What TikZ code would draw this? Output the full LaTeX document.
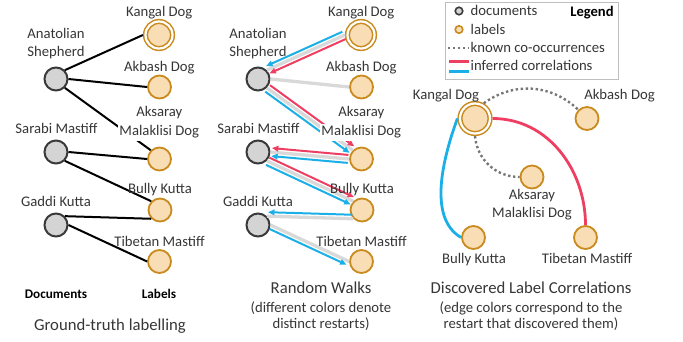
\documentclass[tikz,border=0pt]{standalone}
\usepackage{fontspec}
\setmainfont{Carlito}
\usetikzlibrary{arrows.meta,calc}
\definecolor{lblstroke}{HTML}{C98A1E}
\definecolor{lblfill}{HTML}{F8DDB5}
\definecolor{docfill}{HTML}{D4D4D4}
\definecolor{docstroke}{HTML}{3A3A3A}
\definecolor{walkred}{HTML}{EE3F63}
\definecolor{walkblue}{HTML}{1AAFE6}
\definecolor{basegray}{HTML}{D9D9D9}
\definecolor{dotgray}{HTML}{777777}
\definecolor{txt}{HTML}{363636}
\definecolor{legframe}{HTML}{BFBFBF}
\tikzset{
  docnode/.style={circle,draw=docstroke,fill=docfill,line width=2pt,minimum size=23pt,inner sep=0pt},
  lblnode/.style={circle,draw=lblstroke,fill=lblfill,line width=1.8pt,minimum size=23pt,inner sep=0pt},
  lblmain/.style={circle,draw=lblstroke,fill=lblfill,line width=1.5pt,double=white,double distance=2.2pt,minimum size=27pt,inner sep=0pt,outer sep=2.6pt},
  txtlab/.style={text=txt,font=\fontsize{14.7}{18}\selectfont,inner sep=0pt,anchor=base},
  legtext/.style={txtlab,anchor=base west},
  boldlab/.style={text=black,font=\fontsize{13.2}{16}\selectfont\bfseries,inner sep=0pt,anchor=base},
  legtitle/.style={text=black,font=\fontsize{14.6}{16}\selectfont\bfseries,inner sep=0pt,anchor=base},
  captext/.style={text=txt,font=\fontsize{16.7}{20}\selectfont,inner sep=0pt,anchor=base},
  subcap/.style={text=txt,font=\fontsize{14.7}{18}\selectfont,inner sep=0pt,anchor=base},
  coverlab/.style={txtlab,fill=white,text height=11pt,text depth=4pt,inner xsep=1.5pt,inner ysep=1pt},
  truth/.style={line width=2pt,black},
  baseedge/.style={line width=3.3pt,basegray},
  walkarrow/.style={line width=2pt,-{Triangle[length=6.5pt,width=5.5pt]},shorten >=1pt,shorten <=1pt},
  known/.style={line width=2.4pt,dotgray,dash pattern=on 2.4pt off 2.6pt},
  inferred/.style={line width=2.8pt},
  legbox/.style={rectangle,draw=legframe,line width=1pt,fill=white,minimum width=173.5pt,minimum height=77pt,inner sep=0pt,anchor=north west},
  legicon/.style={minimum size=7.5pt,line width=1.6pt},
}
\newcommand\rwalk[4]{\draw[walkarrow,#1] ($(#2)!#4!90:(#3)$) -- ($(#3)!#4!-90:(#2)$);}
\begin{document}
\begin{tikzpicture}[x=1pt,y=-1pt]
\useasboundingbox (0,0) rectangle (683,341);
% ---------- panel 1: ground truth ----------
\node[docnode] (anA) at (56,79) {};
\node[docnode] (saA) at (56,152) {};
\node[docnode] (gaA) at (56,225) {};
\node[lblmain] (kaA) at (159,35) {};
\node[lblnode] (abA) at (159.5,87) {};
\node[lblnode] (asA) at (159.5,159) {};
\node[lblnode] (buA) at (160,210) {};
\node[lblnode] (tiA) at (159.5,261.5) {};
\draw[truth] (anA.45) -- (kaA.west);
\draw[truth] (anA.east) -- (abA.west);
\draw[truth] (anA.-45) -- (asA.135);
\draw[truth] (saA.east) -- (asA.west);
\draw[truth] (saA.-45) -- (buA.135);
\draw[truth] (gaA.45) -- (buA.225);
\draw[truth] (gaA.east) -- (tiA.west);
\node[txtlab] (tKaA) at (159.3,16.7) {Kangal Dog};
\node[txtlab] (tAnA1) at (56,38) {Anatolian};
\node[txtlab] (tAnA2) at (56,56.5) {Shepherd};
\node[txtlab] (tAbA) at (159.3,71.5) {Akbash Dog};
\node[coverlab] (tAsA1) at (159.3,116.5) {Aksaray};
\node[coverlab] (tAsA2) at (159.3,135.5) {Malaklisi Dog};
\node[txtlab] (tSaA) at (56.5,133) {Sarabi Mastiff};
\node[txtlab] (tBuA) at (160,193) {Bully Kutta};
\node[txtlab] (tGaA) at (56,206.5) {Gaddi Kutta};
\node[txtlab] (tTiA) at (159.5,246.5) {Tibetan Mastiff};
\node[boldlab] (tDocs) at (56,298.5) {Documents};
\node[boldlab] (tLbls) at (159,298.5) {Labels};
\node[captext] (cap1) at (110,330) {Ground-truth labelling};
% ---------- panel 2: random walks ----------
\node[docnode] (anB) at (258,79) {};
\node[docnode] (saB) at (258,152) {};
\node[docnode] (gaB) at (258,225) {};
\node[lblmain] (kaB) at (361,35) {};
\node[lblnode] (abB) at (361.5,87) {};
\node[lblnode] (asB) at (361.5,159) {};
\node[lblnode] (buB) at (362,210) {};
\node[lblnode] (tiB) at (361.5,261.5) {};
\draw[baseedge] (anB.45) -- (kaB.west);
\draw[baseedge] (anB.east) -- (abB.west);
\draw[baseedge] (anB.-45) -- (asB.135);
\draw[baseedge] (saB.east) -- (asB.west);
\draw[baseedge] (saB.-45) -- (buB.135);
\draw[baseedge] (gaB.45) -- (buB.225);
\draw[baseedge] (gaB.east) -- (tiB.west);
\rwalk{walkblue}{kaB.west}{anB.45}{-4pt}
\rwalk{walkred}{kaB.west}{anB.45}{4pt}
\rwalk{walkred}{anB.-45}{asB.135}{4pt}
\rwalk{walkblue}{anB.-45}{asB.135}{-4pt}
\rwalk{walkred}{asB.west}{saB.east}{-4pt}
\rwalk{walkblue}{asB.west}{saB.east}{4pt}
\rwalk{walkred}{saB.-45}{buB.135}{4pt}
\rwalk{walkblue}{saB.-45}{buB.135}{-4pt}
\rwalk{walkblue}{buB.225}{gaB.45}{-4pt}
\rwalk{walkblue}{gaB.east}{tiB.west}{-4pt}
\node[txtlab] (tKaB) at (361.3,16.7) {Kangal Dog};
\node[txtlab] (tAnB1) at (258,38) {Anatolian};
\node[txtlab] (tAnB2) at (258,56.5) {Shepherd};
\node[txtlab] (tAbB) at (361.3,71.5) {Akbash Dog};
\node[coverlab] (tAsB1) at (361.3,116.5) {Aksaray};
\node[coverlab] (tAsB2) at (361.3,135.5) {Malaklisi Dog};
\node[txtlab] (tSaB) at (258.5,133) {Sarabi Mastiff};
\node[txtlab] (tBuB) at (362,193) {Bully Kutta};
\node[txtlab] (tGaB) at (258,206.5) {Gaddi Kutta};
\node[txtlab] (tTiB) at (361.5,246.5) {Tibetan Mastiff};
\node[captext] (cap2) at (321,293) {Random Walks};
\node[subcap] (sub2a) at (321,312) {(different colors denote};
\node[subcap] (sub2b) at (321,328.5) {distinct restarts)};
% ---------- panel 3: discovered correlations ----------
\node[lblmain,minimum size=30pt] (ka3) at (475,118.5) {};
\node[lblnode] (ab3) at (587,118.5) {};
\node[lblnode] (as3) at (532,177) {};
\node[lblnode] (bu3) at (473.5,237.5) {};
\node[lblnode] (ti3) at (585.5,237.5) {};
\draw[known] (ka3.60) to[bend left=40] (ab3.135);
\draw[known] (ka3.south) to[out=-85,in=180] (as3.west);
\draw[inferred,walkred] (ka3.east) to[out=0,in=90] (ti3.north);
\draw[inferred,walkblue] (ka3.west) to[out=250,in=150,looseness=0.85] (bu3.west);
\node[txtlab] (tKa3) at (446,99) {Kangal Dog};
\node[txtlab] (tAb3) at (619.5,99) {Akbash Dog};
\node[txtlab] (tAs3a) at (532,199) {Aksaray};
\node[txtlab] (tAs3b) at (532,217.5) {Malaklisi Dog};
\node[txtlab] (tBu3) at (474,263) {Bully Kutta};
\node[txtlab] (tTi3) at (587,263) {Tibetan Mastiff};
\node[captext] (cap3) at (531,293) {Discovered Label Correlations};
\node[subcap] (sub3a) at (531,312) {(edge colors correspond to the};
\node[subcap] (sub3b) at (531,328.5) {restart that discovered them)};
% ---------- legend ----------
\node[legbox] (legend) at (444.5,2) {};
\node[docnode,legicon] (legdoc) at (459,11) {};
\node[lblnode,legicon] (leglbl) at (459,29.5) {};
\coordinate (knA) at (448,48);
\coordinate (knB) at (469,48);
\coordinate (rdA) at (449,61.5);
\coordinate (rdB) at (469,61.5);
\coordinate (blA) at (449,71);
\coordinate (blB) at (469,71);
\draw[known] (knA) -- (knB);
\draw[line width=3pt,walkred] (rdA) -- (rdB);
\draw[line width=3pt,walkblue] (blA) -- (blB);
\node[legtext] (lgdoc) at (470.5,15.5) {documents};
\node[legtext] (lglbl) at (470.5,34) {labels};
\node[legtext] (lgkn) at (470.5,52.5) {known co-occurrences};
\node[legtext] (lginf) at (470.5,70.5) {inferred correlations};
\node[legtitle] (lgtitle) at (592,16.5) {Legend};
\end{tikzpicture}
\end{document}
